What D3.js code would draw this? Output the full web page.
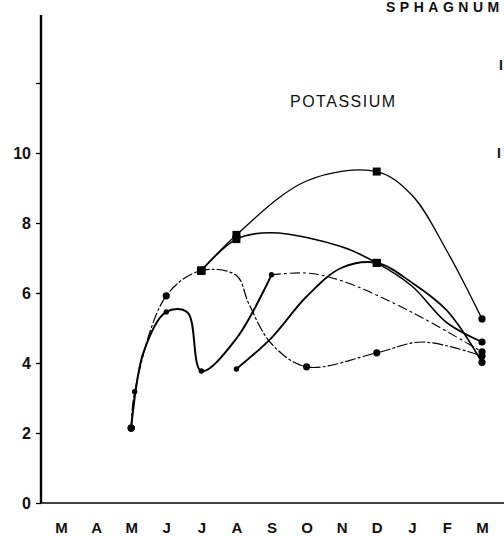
<!DOCTYPE html>
<html><head><meta charset="utf-8">
<script src="https://cdn.jsdelivr.net/npm/d3@7"></script>
<style>body{margin:0;background:#fff}svg{display:block}</style>
</head><body>
<script>
// ---- data ----
const months = ["M","A","M","J","J","A","S","O","N","D","J","F","M"];
const yTickValues = [0,2,4,6,8,10,12];
const yTickLabels = ["0","2","4","6","8","10",""];
// [monthIndex, value, marker]  marker: "s" square, "o" dot, "." small dot, "" none (curve guide)
const seriesA = [[4,6.64,"s"],[5,7.66,"s"],[7,9.2,""],[9,9.47,"s"],[10,8.8,""],[11,7.2,""],[12,5.26,"o"]];
const seriesB = [[4,6.64,"s"],[5,7.54,"s"],[6,7.72,""],[8,7.32,""],[9,6.86,"s"],[10,6.2,""],[11,5.15,""],[12,4.6,"o"]];
const seriesC = [[2,2.14,"o"],[2.1,3.18,"."],[3,5.92,"o"],[4,6.64,"s"],[5,6.5,""],[5.35,5.7,""],[6,4.55,""],[7,3.89,"o"],[9,4.29,"o"],[10.3,4.6,""],[12,4.2,"o"]];
const seriesD1 = [[2,2.14,"o"],[2.35,4.3,""],[3,5.46,"."],[3.6,5.45,""],[4,3.77,"."],[5,4.7,""],[6,6.52,"."]];
const seriesD2 = [[6,6.52,""],[7,6.57,""],[8,6.35,""],[10,5.45,""],[12,4.32,"o"]];
const seriesE = [[5,3.83,"."],[6,4.72,""],[7,5.9,""],[8,6.72,""],[9,6.86,"s"],[10,6.3,""],[11,5.5,""],[12,4.02,"o"]];

const seriesStyles = [
  {data: seriesA, width: 1.3, dash: null},
  {data: seriesB, width: 1.6, dash: null},
  {data: seriesC, width: 1.2, dash: "10,3,2,3"},
  {data: seriesD1, width: 2.0, dash: null},
  {data: seriesD2, width: 1.1, dash: "9,4,2,4"},
  {data: seriesE, width: 1.8, dash: null}
];

// ---- chart ----
const W = 504, H = 536;
const svg = d3.select("body").append("svg").attr("width", W).attr("height", H);
const x = d3.scaleLinear().domain([0, 12]).range([61, 482]);
const y = d3.scaleLinear().domain([0, 10]).range([503, 153]);
const font = "'Liberation Sans', Arial, Helvetica, sans-serif";

// y axis
const yAxisG = svg.append("g").attr("transform", "translate(41,0)")
  .call(d3.axisLeft(y).tickValues(yTickValues).tickSize(5).tickPadding(5)
    .tickFormat((d, i) => yTickLabels[i]));
yAxisG.select(".domain").remove();
yAxisG.selectAll(".tick line").attr("stroke", "#000").attr("stroke-width", 1.3);
yAxisG.selectAll(".tick text").attr("font-family", font).attr("font-size", 16)
  .attr("font-weight", "bold").attr("fill", "#111");
svg.append("line").attr("x1", 41).attr("x2", 41).attr("y1", 15).attr("y2", y(0))
  .attr("stroke", "#000").attr("stroke-width", 2.4);

// x axis
const xAxisG = svg.append("g").attr("transform", `translate(0,${y(0)})`)
  .call(d3.axisBottom(x).tickValues(d3.range(months.length)).tickSize(0).tickPadding(19)
    .tickFormat(i => months[i]));
xAxisG.select(".domain").remove();
xAxisG.selectAll(".tick text").attr("font-family", font).attr("font-size", 15)
  .attr("font-weight", "bold").attr("fill", "#111");
svg.append("line").attr("x1", 41).attr("x2", W).attr("y1", y(0)).attr("y2", y(0))
  .attr("stroke", "#000").attr("stroke-width", 1.6);

// lines
const line = d3.line().x(d => x(d[0])).y(d => y(d[1])).curve(d3.curveCatmullRom.alpha(0.5));
seriesStyles.forEach(s => {
  svg.append("path").datum(s.data).attr("d", line).attr("fill", "none")
    .attr("stroke", "#000").attr("stroke-width", s.width)
    .attr("stroke-dasharray", s.dash).attr("stroke-linecap", "round");
});

// markers
seriesStyles.forEach(s => {
  s.data.filter(d => d[2] === "o" || d[2] === ".").forEach(d => {
    svg.append("circle").attr("cx", x(d[0])).attr("cy", y(d[1]))
      .attr("r", d[2] === "o" ? 3.6 : 2.7).attr("fill", "#000");
  });
  s.data.filter(d => d[2] === "s").forEach(d => {
    svg.append("rect").attr("x", x(d[0]) - 4).attr("y", y(d[1]) - 4)
      .attr("width", 8).attr("height", 8).attr("fill", "#000");
  });
});

// texts
svg.append("text").attr("x", 290).attr("y", 107).attr("font-family", font)
  .attr("font-size", 16).attr("letter-spacing", 1.5).attr("fill", "#111").text("POTASSIUM");
svg.append("text").attr("x", 386).attr("y", 12).attr("font-family", font)
  .attr("font-size", 14).attr("font-weight", "bold").attr("letter-spacing", 4.5)
  .attr("fill", "#111").text("SPHAGNUM");
svg.append("text").attr("x", 499).attr("y", 70).attr("font-family", font)
  .attr("font-size", 14).attr("font-weight", "bold").attr("fill", "#111").text("I");
svg.append("text").attr("x", 497).attr("y", 158).attr("font-family", font)
  .attr("font-size", 14).attr("font-weight", "bold").attr("fill", "#111").text("I");
</script>
</body></html>
